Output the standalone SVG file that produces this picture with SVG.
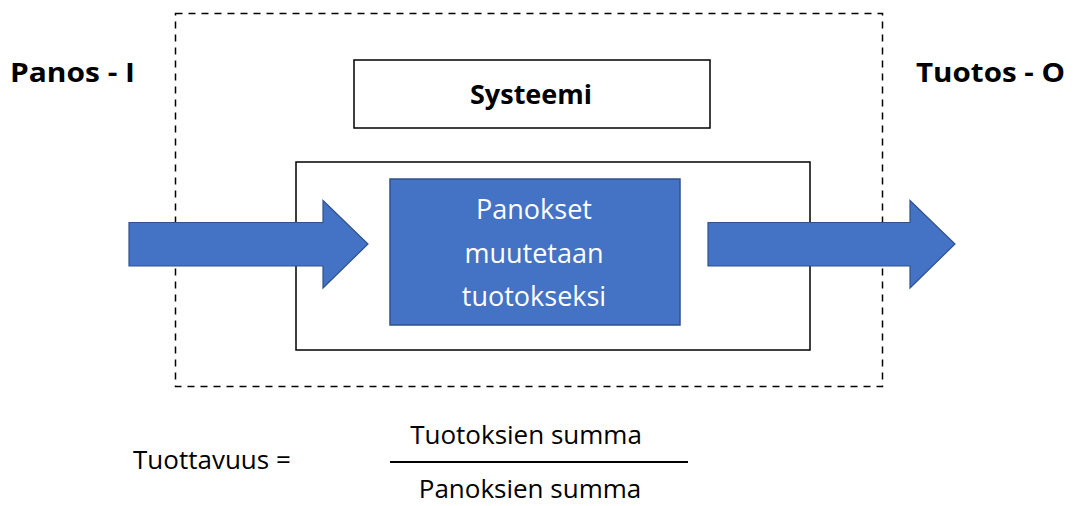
<svg xmlns="http://www.w3.org/2000/svg" width="1075" height="506" viewBox="0 0 1075 506">
<style>
.t{font-family:"Open Sans","Liberation Sans",sans-serif;fill:#000}
.b{font-weight:bold}
.w{fill:#fff}
.box{fill:#fff;stroke:#000;stroke-width:1.5}
.arrow{fill:#4472C4;stroke:#2F528F;stroke-width:1.2}
</style>
<rect width="1075" height="506" fill="#fff"/>
<g id="system-boundary">
<rect x="175.5" y="13.5" width="707" height="373" fill="none" stroke="#000" stroke-width="1.5" stroke-dasharray="7,6"/>
</g>
<g id="label-panos"><text class="t b" x="10" y="82" font-size="27" textLength="125" lengthAdjust="spacingAndGlyphs">Panos - I</text></g>
<g id="label-tuotos"><text class="t b" x="916" y="82" font-size="27" textLength="149" lengthAdjust="spacingAndGlyphs">Tuotos - O</text></g>
<g id="systeemi">
<rect class="box" x="354" y="60" width="356" height="68"/>
<text class="t b" x="531" y="104" font-size="27" text-anchor="middle">Systeemi</text>
</g>
<g id="process-frame">
<rect class="box" x="296" y="162" width="514" height="188"/>
</g>
<g id="connectors">
<path class="arrow" d="M129,222.5 H323 V200.5 L368,244 L323,288 V266 H129 Z"/>
<path class="arrow" d="M708,222.5 H910 V200.5 L955,244 L910,288 V266 H708 Z"/>
</g>
<g id="process">
<rect x="390" y="179" width="290" height="146" fill="#4472C4" stroke="#2F528F" stroke-width="1.5"/>
<text class="t w" x="534" y="219" font-size="27" text-anchor="middle">Panokset</text>
<text class="t w" x="534" y="263" font-size="27" text-anchor="middle">muutetaan</text>
<text class="t w" x="534" y="306" font-size="27" text-anchor="middle">tuotokseksi</text>
</g>
<g id="formula">
<text class="t" x="133" y="469" font-size="26">Tuottavuus =</text>
<text class="t" x="526" y="444" font-size="26" text-anchor="middle">Tuotoksien summa</text>
<line x1="390" y1="462" x2="688" y2="462" stroke="#000" stroke-width="2"/>
<text class="t" x="530" y="498" font-size="26" text-anchor="middle">Panoksien summa</text>
</g>
</svg>
